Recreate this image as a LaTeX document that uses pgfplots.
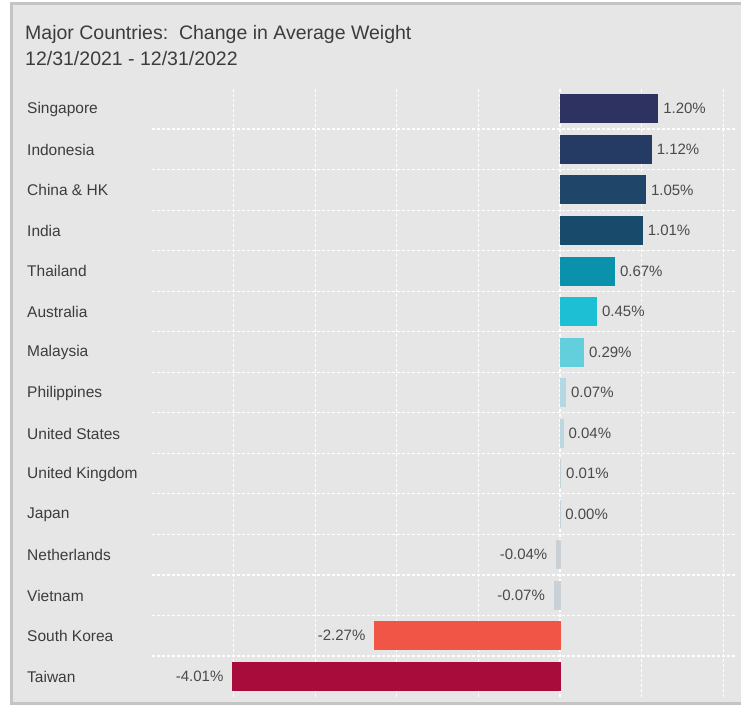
\documentclass[border=0pt]{standalone}
\usepackage{pgfplots}
\pgfplotsset{compat=1.18}
\usepackage{fontspec}
\setmainfont{Liberation Sans}
\definecolor{bgc}{HTML}{E6E6E6}
\definecolor{framec}{HTML}{C4C4C4}
\definecolor{txt}{HTML}{3C3C3C}
\definecolor{vtxt}{HTML}{4A4A4A}
\definecolor{cSG}{HTML}{2E3260}
\definecolor{cID}{HTML}{253B63}
\definecolor{cCN}{HTML}{1F4569}
\definecolor{cIN}{HTML}{184A6B}
\definecolor{cTH}{HTML}{0A91AB}
\definecolor{cAU}{HTML}{1CBFD4}
\definecolor{cMY}{HTML}{64CFDC}
\definecolor{cPH}{HTML}{B3D8E1}
\definecolor{cUS}{HTML}{BCD7E0}
\definecolor{cUK}{HTML}{C3D3DB}
\definecolor{cJP}{HTML}{C3D3DB}
\definecolor{cNL}{HTML}{C9D1D7}
\definecolor{cVN}{HTML}{C9D1D7}
\definecolor{cKR}{HTML}{F05545}
\definecolor{cTW}{HTML}{A80C3A}
\begin{document}
\begin{tikzpicture}[x=1pt,y=1pt]
\useasboundingbox (0,0) rectangle (741,-707);
\fill[white] (0,0) rectangle (741,-707);
\filldraw[fill=bgc, draw=framec, line width=3pt] (11.5,-3) rectangle (760,-703.5);
\node[anchor=base west, inner sep=0pt, text=txt, font=\fontsize{19.5}{23}\selectfont] at (25,-39) {Major Countries:\ \ Change in Average Weight};
\node[anchor=base west, inner sep=0pt, text=txt, font=\fontsize{19.5}{23}\selectfont] at (25,-65) {12/31/2021 - 12/31/2022};
\begin{axis}[
  at={(152pt,-88.5pt)}, anchor=north west,
  scale only axis, width=583pt, height=608pt,
  xmin=-5, xmax=2.145, ymin=-0.5, ymax=14.5, y dir=reverse,
  xbar, clip=false,
  every axis plot/.append style={bar width=28pt, bar shift=0pt, line width=0.8pt},
  axis line style={draw=none},
  major tick length=0pt, minor tick length=0pt,
  xtick={-4,-3,-2,-1,0,1,2}, xticklabels={},
  ytick={0,1,2,3,4,5,6,7,8,9,10,11,12,13,14},
  yticklabels={Singapore,Indonesia,China \& HK,India,Thailand,Australia,Malaysia,Philippines,United States,United Kingdom,Japan,Netherlands,Vietnam,South Korea,Taiwan},
  minor ytick={0.5,1.5,2.5,3.5,4.5,5.5,6.5,7.5,8.5,9.5,10.5,11.5,12.5,13.5},
  xmajorgrids, yminorgrids,
  grid style={white, line width=1.2pt, dash pattern=on 3pt off 2pt},
  minor grid style={white, line width=1.2pt, dash pattern=on 3pt off 2pt},
  yticklabel style={anchor=west, inner sep=0pt, xshift=-125pt, yshift=-0.5pt, text=txt, font=\fontsize{15.5}{18}\selectfont},
  point meta=x,
  nodes near coords={\pgfmathprintnumber[fixed,fixed zerofill,precision=2,assume math mode=true]{\pgfplotspointmeta}\%},
  nodes near coords style={text=vtxt, font=\fontsize{15}{18}\selectfont, inner sep=0pt},
  pos/.style={every node near coord/.append style={anchor=west, xshift=5pt}},
  neg/.style={every node near coord/.append style={anchor=east, xshift=-9pt}},
]
\addplot[fill=cSG, draw=cSG, pos] coordinates {(1.20,0)};
\addplot[fill=cID, draw=cID, pos] coordinates {(1.12,1)};
\addplot[fill=cCN, draw=cCN, pos] coordinates {(1.05,2)};
\addplot[fill=cIN, draw=cIN, pos] coordinates {(1.01,3)};
\addplot[fill=cTH, draw=cTH, pos] coordinates {(0.67,4)};
\addplot[fill=cAU, draw=cAU, pos] coordinates {(0.45,5)};
\addplot[fill=cMY, draw=cMY, pos] coordinates {(0.29,6)};
\addplot[fill=cPH, draw=cPH, pos] coordinates {(0.07,7)};
\addplot[fill=cUS, draw=cUS, pos] coordinates {(0.04,8)};
\addplot[fill=cUK, draw=cUK, pos] coordinates {(0.01,9)};
\addplot[fill=cJP, draw=cJP, pos] coordinates {(0.00,10)};
\addplot[fill=cNL, draw=cNL, neg] coordinates {(-0.04,11)};
\addplot[fill=cVN, draw=cVN, neg] coordinates {(-0.07,12)};
\addplot[fill=cKR, draw=cKR, neg] coordinates {(-2.27,13)};
\addplot[fill=cTW, draw=cTW, neg] coordinates {(-4.01,14)};
\end{axis}
\end{tikzpicture}
\end{document}
